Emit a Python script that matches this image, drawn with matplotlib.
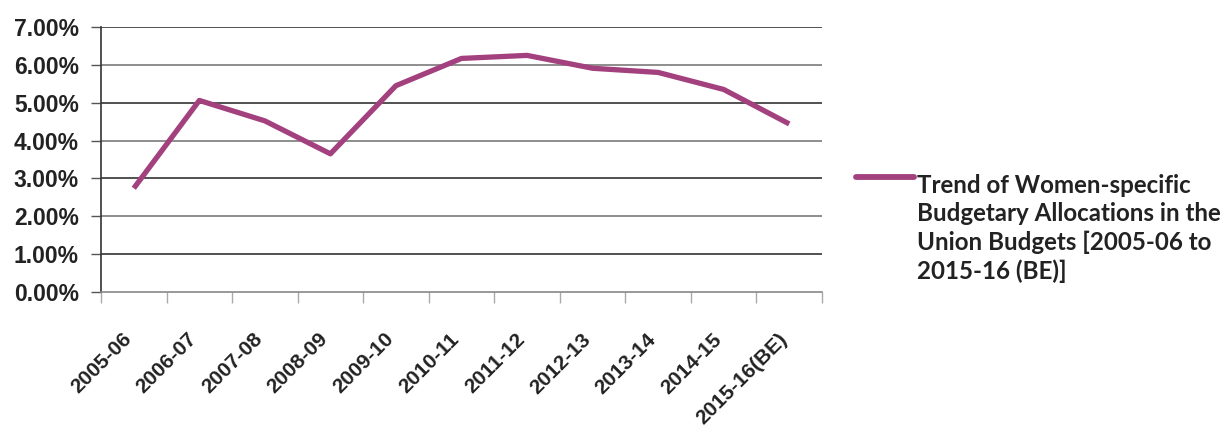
import numpy as np
import matplotlib
matplotlib.use("Agg")
import matplotlib.pyplot as plt
from matplotlib.lines import Line2D
from matplotlib.ticker import FuncFormatter, FixedLocator
import matplotlib.transforms as mtransforms

categories = ["2005-06", "2006-07", "2007-08", "2008-09", "2009-10", "2010-11",
              "2011-12", "2012-13", "2013-14", "2014-15", "2015-16(BE)"]
values = [0.0274, 0.0506, 0.0452, 0.0365, 0.0545, 0.0617,
          0.0625, 0.0591, 0.0580, 0.0535, 0.0444]
legend_label = ("Trend of Women-specific\nBudgetary Allocations in the\n"
                "Union Budgets [2005-06 to\n2015-16 (BE)]")
yticks = [0.00, 0.01, 0.02, 0.03, 0.04, 0.05, 0.06, 0.07]

LINE_COLOR = "#A3417F"

fig = plt.figure(figsize=(12.23, 4.32), dpi=100)
ax = fig.add_axes([101/1223, 1-292/432, (822-101)/1223, (292-27)/432])

x = np.arange(len(categories))
n = len(x)
ax.plot(x, values, color=LINE_COLOR, lw=3.8, solid_joinstyle="round",
        solid_capstyle="butt", zorder=3)

ax.set_xlim(-0.5, n - 0.5)
ax.set_ylim(0, 0.07)

# gridlines
for i, t in enumerate(yticks[1:]):
    ax.axhline(t, color="#333333" if i % 2 == 0 else "#7a7a7a", lw=1.2, zorder=1)

ax.set_yticks(yticks)
ax.yaxis.set_major_formatter(FuncFormatter(lambda v, p: f"{v*100:.2f}%"))
ax.tick_params(axis="y", length=7, width=1.0, color="#555555", pad=9,
               labelsize=16.5)
for lab in ax.get_yticklabels():
    lab.set_fontweight("bold")
    lab.set_family("Liberation Sans")
    lab.set_color("#222222")

# x axis: ticks between categories, labels at centres
ax.xaxis.set_major_locator(FixedLocator(np.arange(-0.5, n, 1.0)))
ax.xaxis.set_minor_locator(FixedLocator(x))
ax.set_xticklabels([""] * (n + 1))
ax.set_xticklabels(categories, minor=True, rotation=45, ha="right",
                   rotation_mode="anchor", fontsize=15, fontweight="bold",
                   family="Liberation Sans", color="#222222")
ax.tick_params(axis="x", which="major", length=8, width=1.0, color="#aaaaaa")
ax.tick_params(axis="x", which="minor", length=0, pad=27)
for lab in ax.get_xticklabels(minor=True):
    lab.set_transform(lab.get_transform() +
                      mtransforms.ScaledTranslation(-12/100, 0, fig.dpi_scale_trans))

for s in ["top", "right"]:
    ax.spines[s].set_visible(False)
ax.spines["left"].set_color("#333333")
ax.spines["left"].set_linewidth(1.2)
ax.spines["bottom"].set_color("#888888")
ax.spines["bottom"].set_linewidth(1.2)

# legend
fig.add_artist(Line2D([856/1223, 914/1223], [1-177/432, 1-177/432],
                      color=LINE_COLOR, lw=4.2, solid_capstyle="round"))
fig.text(917/1223, 1-174/432, legend_label, ha="left", va="top",
         fontsize=17.4, fontweight="bold", family="Lato", color="#222222",
         linespacing=1.27)

fig.savefig("out.png", dpi=100)
